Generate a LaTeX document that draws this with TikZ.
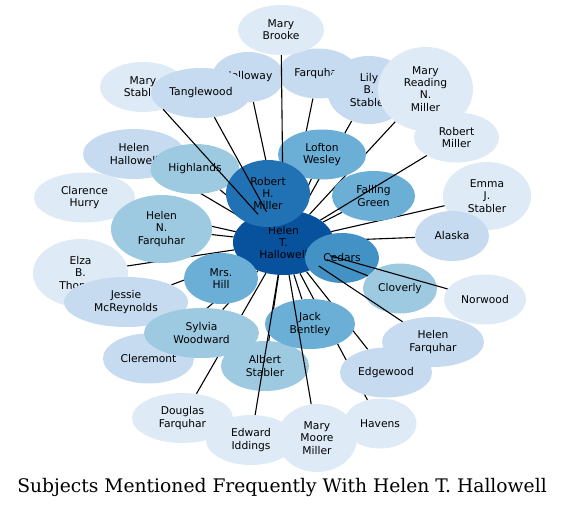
\documentclass[tikz,border=0pt]{standalone}
\usepackage{fontspec}
\newfontfamily\subjfont{DejaVu Sans}
\newfontfamily\titlefont{DejaVu Serif}
\usepackage{tikz}
\usetikzlibrary{shapes.geometric}
\definecolor{tint1}{HTML}{DEEBF7}
\definecolor{tint2}{HTML}{C6DBEF}
\definecolor{tint3}{HTML}{9ECAE1}
\definecolor{tint4}{HTML}{6BAED6}
\definecolor{tint5}{HTML}{4292C6}
\definecolor{tint6}{HTML}{2171B5}
\definecolor{tint7}{HTML}{08519C}
\pgfdeclarelayer{under}
\pgfdeclarelayer{over}
\pgfsetlayers{under,main,over}
\tikzset{
  subj/.style={ellipse,inner sep=0pt,align=center,minimum height=50pt,
    font=\subjfont\fontsize{10.7}{12.3}\selectfont},
  lnk/.style={draw=black,line width=1.1pt},
}
\begin{document}
\begin{tikzpicture}[x=1pt,y=-1pt]
  \useasboundingbox (0,0) rectangle (564,508);
  \node[subj,fill=tint2,minimum width=102pt] (hhallowell) at (134,154) {Helen\\Hallowell};
  \node[subj,fill=tint1,minimum width=101pt] (churry) at (84.5,197.5) {Clarence\\Hurry};
  \node[subj,fill=tint3,minimum width=89pt] (highlands) at (195,169) {Highlands};
  \node[subj,fill=tint1,minimum width=95pt,minimum height=68pt] (elza) at (80.5,273) {Elza\\B.\\Thomas};
  \node[subj,fill=tint3,minimum width=101pt,minimum height=68pt] (hnfarquhar) at (161.5,229) {Helen\\N.\\Farquhar};
  \node[subj,fill=tint2,minimum width=124pt] (jessie) at (126,302) {Jessie\\McReynolds};
  \node[subj,fill=tint2,minimum width=91pt] (cleremont) at (148.5,358.5) {Cleremont};
  \node[subj,fill=tint3,minimum width=115pt] (sylvia) at (201.5,333) {Sylvia\\Woodward};
  \node[subj,fill=tint3,minimum width=88pt] (albert) at (265,366) {Albert\\Stabler};
  \node[subj,fill=tint1,minimum width=101pt] (douglas) at (182.5,418) {Douglas\\Farquhar};
  \node[subj,fill=tint1,minimum width=90pt] (edward) at (251,440) {Edward\\Iddings};
  \node[subj,fill=tint4,minimum width=90pt] (jack) at (310,324) {Jack\\Bentley};
  \node[subj,fill=tint2,minimum width=102pt] (hfarquhar) at (433,342) {Helen\\Farquhar};
  \node[subj,fill=tint2,minimum width=92pt] (edgewood) at (386,372.5) {Edgewood};
  \node[subj,fill=tint1,minimum width=73pt] (havens) at (380,423.5) {Havens};
  \node[subj,fill=tint1,minimum width=80pt,minimum height=68pt] (mmmiller) at (317,438) {Mary\\Moore\\Miller};
  \node[subj,fill=tint2,minimum width=72pt] (holloway) at (248,77) {Holloway};
  \node[subj,fill=tint2,minimum width=80pt] (farquhar) at (318,73.5) {Farquhar};
  \node[subj,fill=tint2,minimum width=84pt,minimum height=68pt] (lily) at (369,90) {Lily\\B.\\Stabler};
  \node[subj,fill=tint1,minimum width=95pt,minimum height=84pt] (mrnmiller) at (425.5,89) {Mary\\Reading\\N.\\Miller};
  \node[subj,fill=tint1,minimum width=85pt] (rmiller) at (456.5,137.5) {Robert\\Miller};
  \node[subj,fill=tint1,minimum width=88pt,minimum height=68pt] (emma) at (487,196) {Emma\\J.\\Stabler};
  \node[subj,fill=tint2,minimum width=74pt] (alaska) at (452,236) {Alaska};
  \node[subj,fill=tint4,minimum width=88pt] (lofton) at (322,154.5) {Lofton\\Wesley};
  \node[subj,fill=tint4,minimum width=83pt] (falling) at (373.5,196) {Falling\\Green};
  \node[subj,fill=tint1,minimum width=86pt] (mbrooke) at (281,30) {Mary\\Brooke};
  \node[subj,fill=tint1,minimum width=86pt] (mstabler) at (143,87) {Mary\\Stabler};
  \node[subj,fill=tint2,minimum width=100pt] (tanglewood) at (201,93) {Tanglewood};
  \node[subj,fill=tint7,minimum width=101pt,minimum height=65pt] (hth) at (283.5,242.5) {Helen\\T.\\Hallowell};
  \node[subj,fill=tint4,minimum width=74pt,minimum height=51pt] (mrshill) at (221,278.5) {Mrs.\\Hill};
  \node[subj,fill=tint6,minimum width=84pt,minimum height=67pt] (rhm) at (268,193.5) {Robert\\H.\\Miller};
  \node[subj,fill=tint5,minimum width=74pt] (cedars) at (342,258) {Cedars};
  \node[subj,fill=tint3,minimum width=74pt] (cloverly) at (400,288.5) {Cloverly};
  \node[subj,fill=tint1,minimum width=82pt] (norwood) at (485,299.5) {Norwood};
  \begin{pgfonlayer}{under}
  \foreach \n in {hhallowell,churry,highlands,elza,hnfarquhar,jessie,cleremont,mrshill,
    sylvia,douglas,albert,jack,edgewood,havens,holloway,farquhar,lily,mrnmiller,emma,
    alaska,lofton,falling,rhm,cedars}
    \draw[lnk] (hth) -- (\n);
  \end{pgfonlayer}
  \begin{pgfonlayer}{over}
  \foreach \n in {rmiller,edward,mmmiller,hfarquhar,cloverly,norwood,tanglewood,mstabler}
    \draw[lnk] (hth) -- (\n);
  \draw[lnk,shorten <=48pt] (hth) -- (mbrooke);
  \end{pgfonlayer}
  \node[font=\titlefont\fontsize{18.7}{22}\selectfont] (title) at (282,487) {Subjects Mentioned Frequently With Helen T. Hallowell};
\end{tikzpicture}
\end{document}
